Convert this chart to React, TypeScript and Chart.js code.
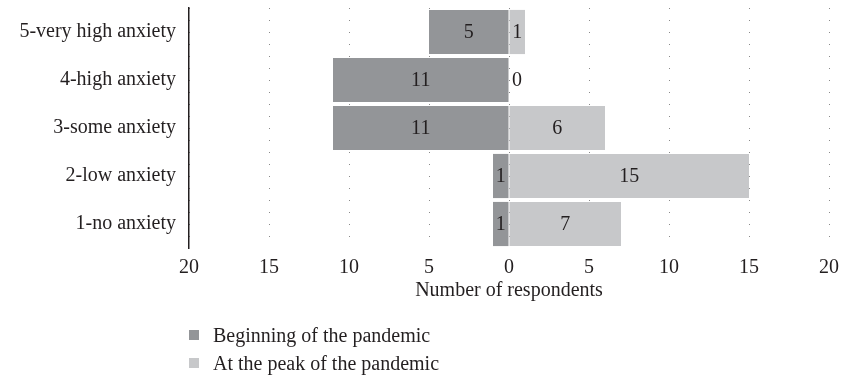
import React, { useEffect, useRef } from "react";
import { Chart, registerables } from "chart.js";

Chart.register(...registerables);

const categories = [
  "5-very high anxiety",
  "4-high anxiety",
  "3-some anxiety",
  "2-low anxiety",
  "1-no anxiety",
];
const beginningValues = [5, 11, 11, 1, 1];
const peakValues = [1, 0, 6, 15, 7];
const seriesNames = ["Beginning of the pandemic", "At the peak of the pandemic"];
const axisTitle = "Number of respondents";

const DARK = "#939598";
const LIGHT = "#c7c8ca";
const TEXT = "#231f20";
const FONT = "'Liberation Serif', 'Times New Roman', serif";
const FS = 20;

const labelPlugin = {
  id: "barLabels",
  afterDatasetsDraw(chart: any) {
    const ctx = chart.ctx;
    const zeroX = chart.scales.x.getPixelForValue(0);
    ctx.save();
    ctx.font = `${FS}px ${FONT}`;
    ctx.fillStyle = TEXT;
    ctx.textAlign = "center";
    ctx.textBaseline = "middle";
    chart.data.datasets.forEach((ds: any, di: number) => {
      const meta = chart.getDatasetMeta(di);
      meta.data.forEach((bar: any, i: number) => {
        const v = Math.abs(ds.data[i]);
        const p = bar.getProps(["x", "y", "base"], true);
        let cx = (p.x + p.base) / 2;
        if (v === 0) cx = zeroX + 8;
        ctx.fillText(String(v), cx, p.y + 1);
      });
    });
    ctx.restore();
  },
};

export default function App() {
  const ref = useRef<HTMLCanvasElement | null>(null);
  useEffect(() => {
    if (!ref.current) return;
    const chart = new Chart(ref.current, {
      type: "bar",
      data: {
        labels: categories,
        datasets: [
          {
            label: seriesNames[0],
            data: beginningValues.map((v) => -v),
            backgroundColor: DARK,
            categoryPercentage: 1,
            barPercentage: 0.92,
          },
          {
            label: seriesNames[1],
            data: peakValues,
            backgroundColor: LIGHT,
            categoryPercentage: 1,
            barPercentage: 0.92,
          },
        ],
      },
      plugins: [labelPlugin],
      options: {
        indexAxis: "y",
        animation: false,
        responsive: true,
        maintainAspectRatio: false,
        layout: { padding: { top: 0, right: 0, bottom: 69, left: 0 } },
        plugins: {
          legend: { display: false },
          tooltip: { enabled: false },
        },
        scales: {
          x: {
            stacked: true,
            min: -20,
            max: 20,
            ticks: {
              stepSize: 5,
              color: TEXT,
              font: { family: FONT, size: FS },
              padding: 8,
              callback: (v: any) => String(Math.abs(Number(v))),
            },
            grid: {
              color: "#8a8a8a",
              lineWidth: 1,
              drawTicks: false,
            },
            border: { display: false, dash: [1, 11] },
            title: {
              display: true,
              text: axisTitle,
              color: TEXT,
              font: { family: FONT, size: FS },
              padding: { top: 4, bottom: 4 },
            },
            afterFit: (s: any) => {
              s.height = 59;
              s.paddingRight = 12;
              s.paddingLeft = 0;
            },
          } as any,
          y: {
            stacked: true,
            ticks: {
              color: TEXT,
              font: { family: FONT, size: FS },
              padding: 5,
            },
            grid: { display: false },
            border: { display: true, color: "#231f20", width: 1.5 },
            afterFit: (s: any) => {
              s.width = 189;
              s.paddingTop = 8;
              s.paddingBottom = 0;
            },
          } as any,
        },
      },
    });
    (chart.options.scales as any).x.border.dash = [1, 11];
    chart.update();
    return () => chart.destroy();
  }, []);

  const legendItem = (color: string, text: string, top: number) => (
    <div
      style={{
        position: "absolute",
        left: 189,
        top,
        display: "flex",
        alignItems: "center",
        fontFamily: FONT,
        fontSize: FS,
        color: TEXT,
        whiteSpace: "nowrap",
        lineHeight: "22px",
      }}
    >
      <span
        style={{
          display: "inline-block",
          width: 10,
          height: 10,
          background: color,
          marginRight: 14,
        }}
      />
      <span>{text}</span>
    </div>
  );

  return (
    <div
      style={{
        position: "absolute",
        left: 0,
        top: 0,
        width: 841,
        height: 376,
        background: "#fff",
      }}
    >
      <canvas ref={ref} />
      {legendItem(DARK, seriesNames[0], 324)}
      {legendItem(LIGHT, seriesNames[1], 352)}
    </div>
  );
}
